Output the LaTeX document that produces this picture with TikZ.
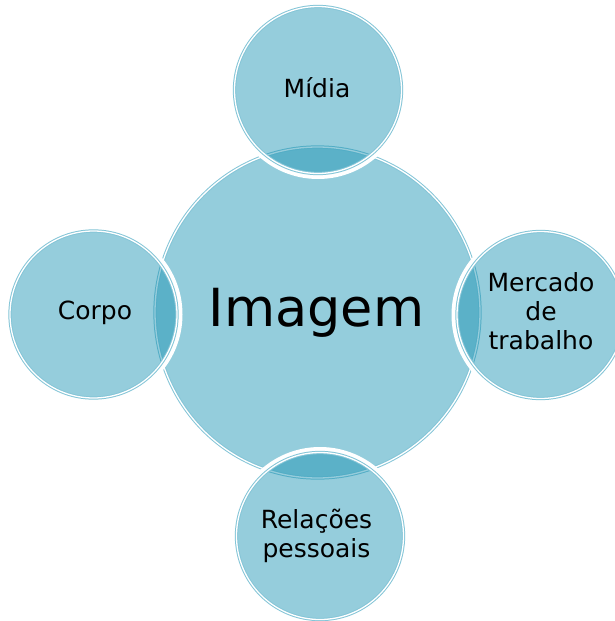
\documentclass[tikz,border=0pt]{standalone}
\usepackage{fontspec}
\setmainfont{DejaVu Sans}
\usetikzlibrary{shapes.geometric}
\definecolor{fillc}{RGB}{148,205,220}
\definecolor{satc}{RGB}{25,146,178}
\definecolor{edgec}{RGB}{132,197,215}
\begin{document}
\begin{tikzpicture}[x=1pt,y=-1pt,
  ring/.style={draw=edgec, line width=1pt, double=white, double distance=1.3pt, inner sep=0pt, outer sep=0pt},
  hub/.style={ring, ellipse, fill=fillc, minimum width=325pt, minimum height=331pt},
  sat/.style={ring, circle, fill=satc, fill opacity=0.46, minimum size=167pt},
  halo/.style={circle, draw=white, line width=5pt, minimum size=173pt, inner sep=0pt, outer sep=0pt},
  lbl/.style={font=\fontsize{25}{29}\selectfont, align=center, text=black, inner sep=0pt},
  big/.style={font=\fontsize{52.5}{60}\selectfont, text=black, inner sep=0pt}]
\useasboundingbox (0,0) rectangle (615,621);
\node[hub] (imagem) at (317.5,312.5) {};
\node[halo] (hmidia) at (318,90) {};
\node[halo] (hcorpo) at (93.5,314.5) {};
\node[halo] (hmercado) at (540.5,315) {};
\node[halo] (hrel) at (320,536) {};
\node[sat] (midia) at (318,90) {};
\node[sat] (corpo) at (93.5,314.5) {};
\node[sat] (mercado) at (540.5,315) {};
\node[sat] (rel) at (320,536) {};
\node[big, anchor=base] (timagem) at (316.5,326) {Imagem};
\node[lbl, anchor=base] (tmidia) at (317,97) {Mídia};
\node[lbl, anchor=base] (tcorpo) at (95,319) {Corpo};
\node[lbl] (tmercado) at (541,311) {Mercado\\de\\trabalho};
\node[lbl] (trel) at (316.5,536) {Relações\\pessoais};
\end{tikzpicture}
\end{document}
